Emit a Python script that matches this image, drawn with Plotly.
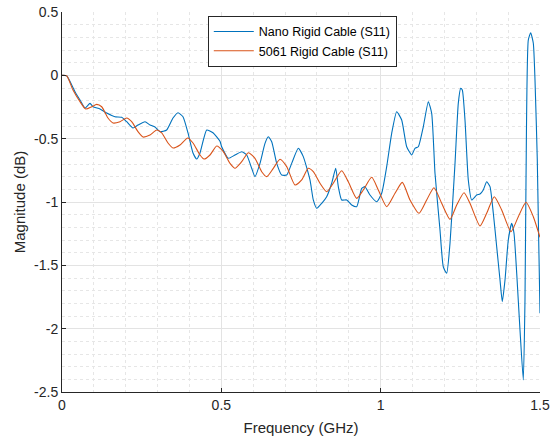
import plotly.graph_objects as go

# Nano Rigid Cable (S11)
nano_freq = [0, 0.0147, 0.0408, 0.0565, 0.0722, 0.0879, 0.0973, 0.1192, 0.1403, 0.1663,
             0.1873, 0.2030, 0.2228, 0.2385, 0.2605, 0.2761, 0.2918, 0.3075, 0.3285, 0.3483,
             0.3640, 0.3797, 0.3954, 0.4111, 0.4227, 0.4331, 0.4541, 0.4738, 0.4958, 0.5011,
             0.5219, 0.5429, 0.5639, 0.5796, 0.5953, 0.6056, 0.6213, 0.6370, 0.6474, 0.6581,
             0.6738, 0.6894, 0.7051, 0.7208, 0.7415, 0.7572, 0.7782, 0.7886, 0.7993, 0.8150,
             0.8306, 0.8463, 0.8589, 0.8671, 0.8777, 0.8934, 0.9091, 0.9248, 0.9405, 0.9508,
             0.9665, 0.9875, 1.0032, 1.0189, 1.0346, 1.0503, 1.0660, 1.0817, 1.0974, 1.1077,
             1.1181, 1.1338, 1.1495, 1.1601, 1.1705, 1.1862, 1.1965, 1.2072, 1.2176, 1.2333,
             1.2436, 1.2511, 1.2562, 1.2646, 1.2750, 1.2857, 1.3013, 1.3117, 1.3220, 1.3327,
             1.3431, 1.3535, 1.3641, 1.3745, 1.3817, 1.3902, 1.4005, 1.4112, 1.4184, 1.4269,
             1.4372, 1.4476, 1.4529, 1.4561, 1.4633, 1.4708, 1.4790, 1.4843, 1.4915, 1.5]
nano_mag = [0, -0.003, -0.129, -0.195, -0.258, -0.221, -0.248, -0.266, -0.298, -0.327,
            -0.331, -0.366, -0.416, -0.392, -0.366, -0.392, -0.408, -0.445, -0.432, -0.337,
            -0.295, -0.327, -0.455, -0.613, -0.661, -0.613, -0.432, -0.453, -0.520, -0.564,
            -0.655, -0.629, -0.603, -0.629, -0.734, -0.800, -0.695, -0.537, -0.485, -0.524,
            -0.695, -0.787, -0.787, -0.695, -0.576, -0.642, -0.826, -0.984, -1.050, -1.010,
            -0.958, -0.852, -0.734, -0.879, -0.984, -0.984, -1.024, -1.037, -0.892, -0.879,
            -0.945, -0.998, -0.931, -0.721, -0.458, -0.287, -0.353, -0.564, -0.629, -0.576,
            -0.564, -0.406, -0.208, -0.300, -0.773, -1.221, -1.511, -1.563, -1.326, -0.695,
            -0.221, -0.103, -0.116, -0.353, -0.826, -0.984, -0.945, -0.937, -0.905, -0.840,
            -0.879, -1.089, -1.353, -1.616, -1.787, -1.616, -1.300, -1.168, -1.247, -1.563,
            -2.010, -2.405, -1.773, -0.826, 0.279, 0.336, 0.253, -0.037, -0.668, -1.878]

# 5061 Rigid Cable (S11)
r5061_freq = [0, 0.0147, 0.0345, 0.0565, 0.0744, 0.0932, 0.1089, 0.1246, 0.1443, 0.1600,
              0.1820, 0.2030, 0.2187, 0.2385, 0.2542, 0.2761, 0.2972, 0.3129, 0.3326, 0.3483,
              0.3703, 0.3945, 0.4111, 0.4331, 0.4456, 0.4644, 0.4855, 0.5062, 0.5272, 0.5429,
              0.5639, 0.5846, 0.6056, 0.6267, 0.6424, 0.6631, 0.6841, 0.7051, 0.7312, 0.7522,
              0.7729, 0.7886, 0.8096, 0.8306, 0.8513, 0.8777, 0.8984, 0.9248, 0.9455, 0.9719,
              0.9926, 1.0189, 1.0450, 1.0679, 1.0920, 1.1203, 1.1444, 1.1673, 1.1915, 1.2176,
              1.2386, 1.2615, 1.2803, 1.3117, 1.3327, 1.3566, 1.3798, 1.4090, 1.4319, 1.4561,
              1.4790, 1.5]
r5061_mag = [0, -0.003, -0.116, -0.208, -0.266, -0.248, -0.229, -0.248, -0.337, -0.376,
             -0.366, -0.337, -0.366, -0.445, -0.487, -0.471, -0.432, -0.455, -0.534, -0.574,
             -0.550, -0.495, -0.534, -0.629, -0.661, -0.629, -0.558, -0.603, -0.695, -0.734,
             -0.682, -0.611, -0.655, -0.761, -0.800, -0.734, -0.663, -0.721, -0.866, -0.826,
             -0.734, -0.761, -0.852, -0.919, -0.852, -0.753, -0.840, -0.971, -0.905, -0.805,
             -0.905, -1.037, -0.931, -0.845, -0.984, -1.089, -0.984, -0.887, -1.010, -1.137,
             -1.024, -0.927, -1.010, -1.189, -1.089, -0.958, -1.063, -1.234, -1.116, -1.002,
             -1.116, -1.279]

x_ticks = [0, 0.5, 1, 1.5]
x_labels = ["0", "0.5", "1", "1.5"]
y_ticks = [0.5, 0, -0.5, -1, -1.5, -2, -2.5]
y_labels = ["0.5", "0", "-0.5", "-1", "-1.5", "-2", "-2.5"]

FONT = "Liberation Sans, Arial, sans-serif"
AX = "#262626"
GRID = "#e3e3e3"

fig = go.Figure()
fig.add_trace(go.Scatter(x=nano_freq, y=nano_mag, mode="lines",
                         name="Nano Rigid Cable (S11)",
                         line=dict(color="#0072BD", width=1.1, shape="spline", smoothing=0.5)))
fig.add_trace(go.Scatter(x=r5061_freq, y=r5061_mag, mode="lines",
                         name="5061 Rigid Cable (S11)",
                         line=dict(color="#D95319", width=1.1, shape="spline", smoothing=0.6)))

fig.update_layout(
    width=554, height=436,
    margin=dict(l=62, r=14, t=12, b=44),
    paper_bgcolor="white", plot_bgcolor="white",
    font=dict(family=FONT, size=14, color=AX),
    showlegend=True,
    legend=dict(x=0.305, y=0.99, xanchor="left", yanchor="top",
                bgcolor="white", bordercolor=AX, borderwidth=1,
                font=dict(family=FONT, size=12.5, color="black"),
                itemwidth=40, tracegroupgap=0),
)
fig.update_xaxes(
    range=[0, 1.5], tickvals=x_ticks, ticktext=x_labels, automargin=False,
    showline=True, linecolor=AX, linewidth=1,
    ticks="inside", ticklen=4, tickcolor=AX,
    showgrid=True, gridcolor=GRID, gridwidth=1, zeroline=False,
    minor=dict(dtick=0.1, showgrid=True, gridcolor="#e6e6e6", griddash="dot", ticks=""),
    title=dict(text="Frequency (GHz)", font=dict(size=15, color=AX), standoff=10),
    tickfont=dict(size=14, color=AX),
)
fig.update_yaxes(
    range=[-2.5, 0.5], tickvals=y_ticks, ticktext=y_labels, automargin=False,
    showline=True, linecolor=AX, linewidth=1,
    ticks="inside", ticklen=4, tickcolor=AX,
    showgrid=True, gridcolor=GRID, gridwidth=1, zeroline=False,
    minor=dict(dtick=0.1, showgrid=True, gridcolor="#e6e6e6", griddash="dot", ticks=""),
    title=dict(text="Magnitude (dB)", font=dict(size=15, color=AX), standoff=4),
    tickfont=dict(size=14, color=AX),
)

fig.write_html("out.html")
